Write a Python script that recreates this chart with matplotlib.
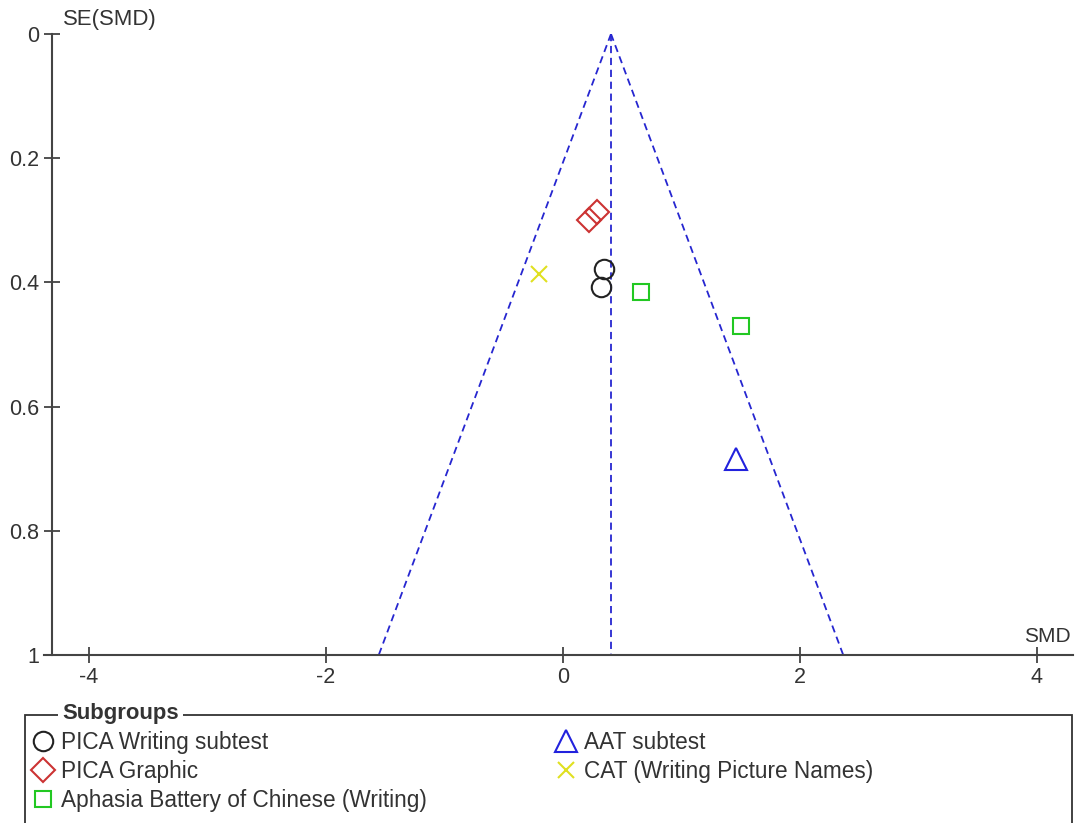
import numpy as np
import matplotlib.pyplot as plt
from matplotlib.lines import Line2D
from matplotlib.patches import Rectangle

plt.rcParams['font.family'] = ['Liberation Sans', 'DejaVu Sans']

# pooled estimate (apex of the funnel)
pooled_smd = 0.405

groups = ["PICA Writing subtest", "PICA Graphic",
          "Aphasia Battery of Chinese (Writing)", "AAT subtest",
          "CAT (Writing Picture Names)"]

pica_writing_smd = [0.35, 0.32]
pica_writing_se = [0.379, 0.408]
pica_graphic_smd = [0.22, 0.29]
pica_graphic_se = [0.300, 0.287]
abc_smd = [0.66, 1.50]
abc_se = [0.415, 0.471]
aat_smd = [1.46]
aat_se = [0.684]
cat_smd = [-0.20]
cat_se = [0.387]

xticks = [-4, -2, 0, 2, 4]
yticks = [0, 0.2, 0.4, 0.6, 0.8, 1]
ytick_labels = ["0", "0.2", "0.4", "0.6", "0.8", "1"]

W, H = 1076, 823
fig = plt.figure(figsize=(W / 100, H / 100), dpi=100)
ax = fig.add_axes([44 / W, 1 - 655 / H, (1073 - 44) / W, (655 - 34) / H])

txt = '#333333'
blue = '#2626d0'

# funnel
se_line = np.array([0.0, 1.0])
dash = (0, (4, 2.6))
ax.plot(pooled_smd - 1.96 * se_line, se_line, color=blue, lw=1.3, ls=dash)
ax.plot(pooled_smd + 1.96 * se_line, se_line, color=blue, lw=1.3, ls=dash)
ax.plot([pooled_smd, pooled_smd], se_line, color=blue, lw=1.3, ls=dash)

styles = [
    (pica_writing_smd, pica_writing_se, 'o', '#222222', 14),
    (pica_graphic_smd, pica_graphic_se, 'D', '#cc3333', 12.5),
    (abc_smd, abc_se, 's', '#22c822', 11.5),
    (aat_smd, aat_se, '^', '#2222dd', 16.5),
    (cat_smd, cat_se, 'x', '#e0e020', 12),
]
handles = []
for xs, ys, m, c, ms in styles:
    ax.plot(xs, ys, ls='none', marker=m, ms=ms, mfc='none', mec=c, mew=1.5)
    handles.append(Line2D([], [], ls='none', marker=m, ms=ms, mfc='none',
                          mec=c, mew=1.5))

ax.set_xlim(-4.38, 4.304)
ax.set_ylim(1, 0)
ax.set_xticks(xticks)
ax.set_xticklabels([str(v) for v in xticks])
ax.set_yticks(yticks)
ax.set_yticklabels(ytick_labels)
for s in ['top', 'right']:
    ax.spines[s].set_visible(False)
for s in ['left', 'bottom']:
    ax.spines[s].set_color('#444444')
    ax.spines[s].set_linewidth(1.5)
ax.spines['left'].set_position(('data', -4.312))
ax.tick_params(direction='inout', length=11.5, width=1.2, color='#333333',
               labelcolor=txt, labelsize=15.5)
ax.tick_params(axis='y', pad=3.5)
ax.tick_params(axis='x', pad=3)

fig.text(63 / W, 1 - 19 / H, "SE(SMD)", fontsize=15.9, color=txt, va='center')
fig.text(1071 / W, 1 - 637 / H, "SMD", fontsize=15, color=txt,
         va='center', ha='right')

# legend box
fig.add_artist(Rectangle((25 / W, -0.02), (1072 - 25) / W, 1 - 715 / H + 0.02,
                         transform=fig.transFigure, fill=False,
                         ec='#333333', lw=1.3))
fig.text(62 / W, 1 - 714 / H, "Subgroups", fontsize=15.9, weight='bold',
         color=txt, va='center',
         bbox=dict(fc='white', ec='none', pad=3))
fig.legend(handles, groups, ncol=2, loc='upper left',
           bbox_to_anchor=(32 / W, 1 - 731 / H), frameon=False,
           fontsize=16.3, labelcolor=txt, handlelength=1.0,
           handletextpad=0.3, columnspacing=5.63, labelspacing=0.255,
           borderpad=0, borderaxespad=0)

fig.savefig('out.png', dpi=100)
